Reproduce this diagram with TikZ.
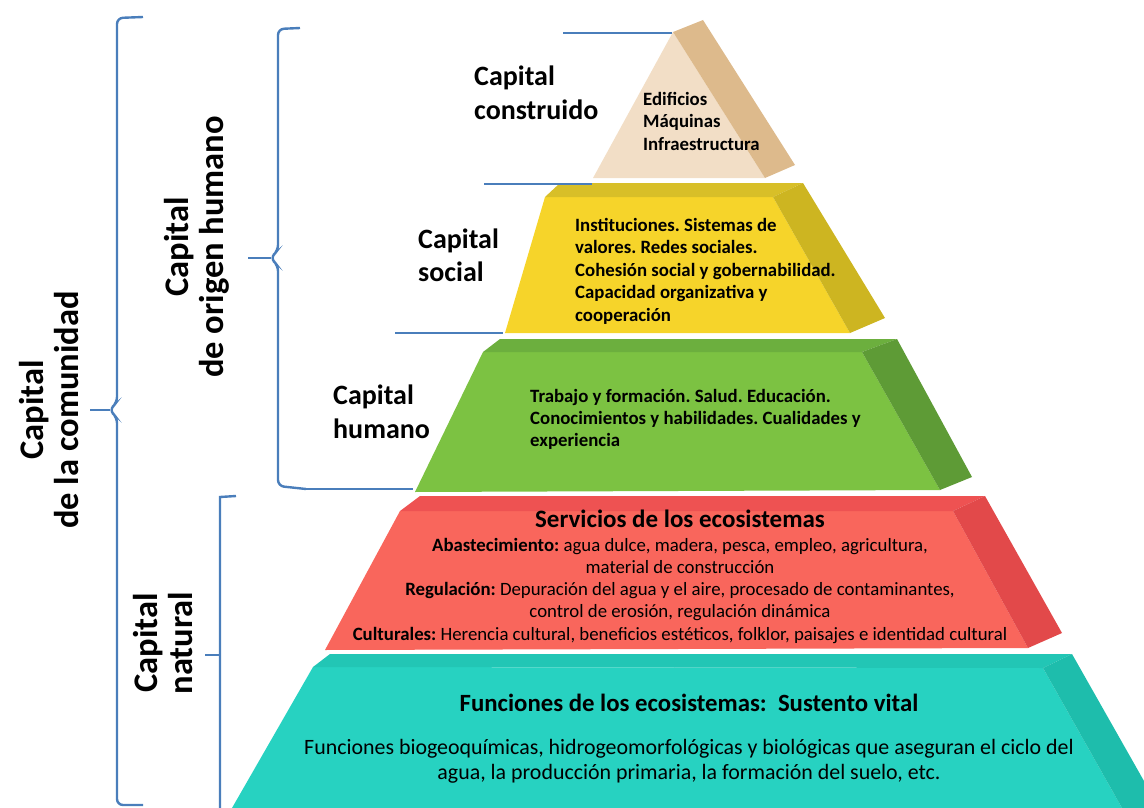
\documentclass[tikz,border=0pt]{standalone}
\usepackage{fontspec}
\setmainfont{Carlito}
\usepackage{tikz}
\usetikzlibrary{calc}
\frenchspacing

\definecolor{beigeF}{HTML}{F2DEC6}
\definecolor{beigeS}{HTML}{DDBA8C}
\definecolor{yelF}{HTML}{F6D42A}
\definecolor{yelT}{HTML}{D8BF28}
\definecolor{yelS}{HTML}{CDB521}
\definecolor{greF}{HTML}{7CC242}
\definecolor{greT}{HTML}{6CAF3E}
\definecolor{greS}{HTML}{5E9B36}
\definecolor{redF}{HTML}{F9665C}
\definecolor{redT}{HTML}{EE5252}
\definecolor{redS}{HTML}{E2494A}
\definecolor{teaF}{HTML}{27D2C1}
\definecolor{teaT}{HTML}{22C6B5}
\definecolor{teaS}{HTML}{1EBDAC}
\definecolor{braceblue}{HTML}{4A7EBB}

\begin{document}
\begin{tikzpicture}[x=1pt, y=-1pt,
		brace/.style={braceblue, line width=2.4pt, rounded corners=6pt},
		guide/.style={braceblue, line width=1.3pt},
		levelname/.style={font=\fontsize{28}{34}\selectfont\bfseries, align=left, inner sep=0, anchor=base west},
		leveltext/.style={font=\fontsize{18.8}{22.5}\selectfont\bfseries, align=left, inner sep=0, anchor=base west},
		sidelabel/.style={font=\fontsize{34.5}{35}\selectfont\bfseries, align=center, rotate=90, inner sep=0}]

			% Bounding box
			\useasboundingbox (0,0) rectangle (1144,808);

			% Base level: ecosystem functions
			\fill[teaF] (232,808) -- (313,667) -- (1043,668) -- (1122,808) -- cycle;
			\fill[teaT] (330,654) -- (1072,654) -- (1043,668) -- (313,667) -- cycle;
			\fill[teaS] (1043,668) -- (1072,654) -- (1144,781) -- (1144,808) -- (1122,808) -- cycle;

			% Ecosystem services
			\fill[redF] (325,650) -- (400,511) -- (953,511) -- (1028,648) -- cycle;
			\fill[redT] (420,496) -- (985,496) -- (953,511) -- (400,511) -- cycle;
			\fill[redS] (953,511) -- (985,496) -- (1062,633) -- (1028,648) -- cycle;

			% Human capital
			\fill[greF] (415,492) -- (483,352) -- (862,352) -- (940,490) -- cycle;
			\fill[greT] (500,339) -- (897,339) -- (862,352) -- (483,352) -- cycle;
			\fill[greS] (862,352) -- (897,339) -- (972,477) -- (940,490) -- cycle;

			% Social capital
			\fill[yelF] (505,333) -- (545,197) -- (773,197) -- (850,333) -- cycle;
			\fill[yelT] (560,183) -- (803,183) -- (773,197) -- (545,197) -- cycle;
			\fill[yelS] (773,197) -- (803,183) -- (885,318) -- (850,333) -- cycle;

			% Built capital (top)
			\fill[beigeF] (593,178) -- (673,32) -- (765,178) -- cycle;
			\fill[beigeS] (673,32) -- (703,20) -- (795,165) -- (765,178) -- cycle;

			% Guide lines to the levels
			\coordinate (g1a) at (563,33);  \coordinate (g1b) at (672,33);
			\coordinate (g2a) at (484,184); \coordinate (g2b) at (592,184);
			\coordinate (g3a) at (395,333); \coordinate (g3b) at (503,333);
			\coordinate (g4a) at (306,489); \coordinate (g4b) at (413,489);
			\draw[guide] (g1a) -- (g1b);
			\draw[guide] (g2a) -- (g2b);
			\draw[guide] (g3a) -- (g3b);
			\draw[guide] (g4a) -- (g4b);

			% Braces
			\draw[brace] (143,17) -- (117,18) -- (117,403) -- (109,410) -- (117,417) -- (117,805) -- (143,805);
			\draw[brace] (90,410) -- (110,410);
			\draw[brace] (300,28) -- (278,29) -- (278,251) -- (270,258) -- (278,265) -- (278,486) -- (g4a);
			\draw[brace] (248,258) -- (271,258);
			\draw[braceblue, line width=2.4pt] (236,496) -- (220,497) -- (220,808);
			\draw[braceblue, line width=2.4pt] (205,655) -- (220,655);

			% Side labels
			\node[sidelabel] (comunidad) at (49,410) {Capital\\de la comunidad};
			\node[sidelabel] (humanorigin) at (197,247) {Capital\\de origen humano};
			\node[sidelabel] (natural) at (163,643) {Capital\\natural};

			% Level names (anchored on their last line)
			\node[levelname] (construido) at (474,120) {Capital\\construido};
			\node[levelname, font=\fontsize{28}{33}\selectfont\bfseries] (social) at (418,281) {Capital\\social};
			\node[levelname] (humano) at (333,438) {Capital\\humano};

			% Level contents
			\node[leveltext] (built) at (643,150) {Edificios\\Máquinas\\Infraestructura};
			\node[leveltext] (socialtext) at (575,321) {Instituciones. Sistemas de\\valores. Redes sociales.\\Cohesión social y gobernabilidad.\\Capacidad organizativa y\\cooperación};
			\node[leveltext, font=\fontsize{18.8}{22}\selectfont\bfseries] (humantext) at (530,446) {Trabajo y formación. Salud. Educación.\\Conocimientos y habilidades. Cualidades y\\experiencia};

			\node[font=\fontsize{25}{28}\selectfont\bfseries, inner sep=0, anchor=base] (services) at (680,527) {Servicios de los ecosistemas};
			\node[font=\fontsize{18.8}{22.2}\selectfont, align=center, inner sep=0, anchor=base] (servicestext) at (680,640)
				{\textbf{Abastecimiento:} agua dulce, madera, pesca, empleo, agricultura,\\material de construcción\\
				\textbf{Regulación:} Depuración del agua y el aire, procesado de contaminantes,\\control de erosión, regulación dinámica\\
				\textbf{Culturales:} Herencia cultural, beneficios estéticos, folklor, paisajes e identidad cultural};

			\node[font=\fontsize{24.8}{28}\selectfont\bfseries, inner sep=0, anchor=base] (functions) at (689,711) {Funciones de los ecosistemas:~ Sustento vital};
			\node[font=\fontsize{21.9}{24.5}\selectfont, align=center, inner sep=0, anchor=base] (functionstext) at (689,779)
				{Funciones biogeoquímicas, hidrogeomorfológicas y biológicas que aseguran el ciclo del\\agua, la producción primaria, la formación del suelo, etc.};

		\end{tikzpicture}
\end{document}
